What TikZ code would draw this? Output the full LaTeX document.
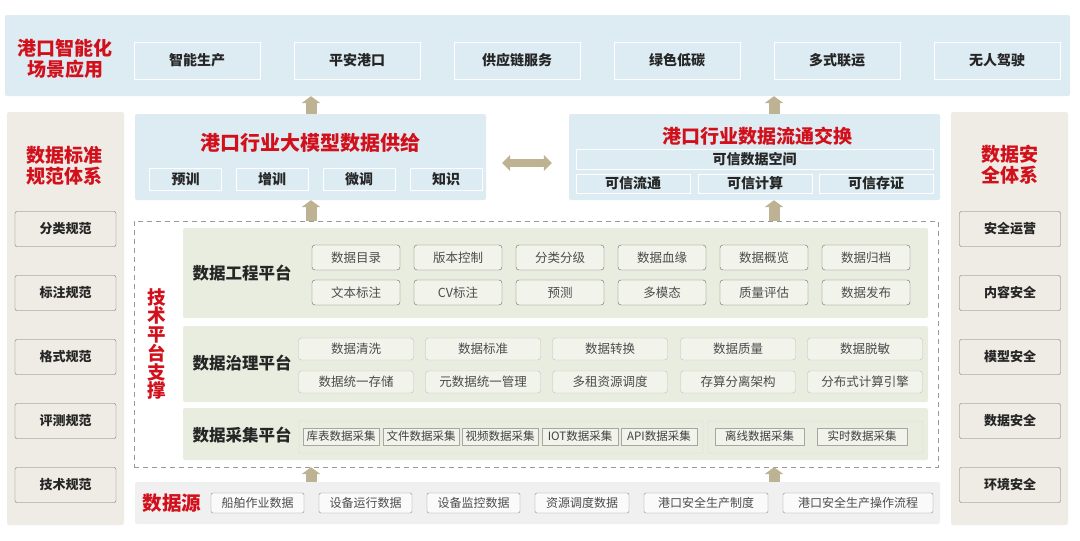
\documentclass[tikz,border=0pt]{standalone}
\usepackage{fontspec}
\setmainfont{Noto Sans CJK SC}
\usetikzlibrary{arrows.meta}

\definecolor{bandblue}{HTML}{DDECF2}
\definecolor{bandside}{HTML}{EEECE5}
\definecolor{bandgreen}{HTML}{E9EDDF}
\definecolor{bandgray}{HTML}{F0F0F0}
\definecolor{itemfill}{HTML}{F2F4EC}
\definecolor{titlered}{HTML}{D2101C}
\definecolor{arrowtan}{HTML}{BDB393}

\tikzset{
  band/.style={fill=#1, draw=none, rounded corners=2pt, inner sep=0pt},
  redtitle/.style={text=titlered, align=center, font=\bfseries\fontsize{19}{21}\selectfont},
  appbox/.style={draw=white, line width=1pt, minimum width=126pt, minimum height=37pt, inner sep=0pt, text=black!85, font=\bfseries\fontsize{14}{16}\selectfont},
  subbox/.style={draw=white, line width=1pt, inner sep=0pt, text=black!85, font=\bfseries\fontsize{14}{16}\selectfont},
  sidebox/.style={draw=black!55, fill=bandside, rounded corners=2pt, minimum width=101pt, minimum height=35pt, inner sep=0pt, text=black!85, font=\bfseries\fontsize{13}{15}\selectfont},
  platlabel/.style={text=black!85, font=\bfseries\fontsize{16.5}{19}\selectfont},
  engbox/.style={draw=black!60, fill=itemfill, rounded corners=3pt, minimum width=88pt, minimum height=25pt, inner sep=0pt, text=black!70, font=\fontsize{12.5}{14}\selectfont},
  govbox/.style={draw=black!25, fill=itemfill, rounded corners=3pt, minimum width=115pt, minimum height=22pt, inner sep=0pt, text=black!70, font=\fontsize{12.5}{14}\selectfont},
  grpbox/.style={draw=black!15, rounded corners=1pt, minimum height=32pt, inner sep=0pt},
  colbox/.style={draw=black!35, fill=itemfill, minimum height=17pt, inner sep=0pt, text=black!75, font=\fontsize{11.5}{13}\selectfont},
  srcbox/.style={draw=black!45, fill=white!70!bandgray, rounded corners=2pt, minimum height=20pt, inner sep=0pt, text=black!70, font=\fontsize{12}{14}\selectfont},
  uparrow/.style={draw=arrowtan, line width=11pt, -{Triangle[width=19pt,length=7pt,line width=0pt]}},
  dblarrow/.style={draw=arrowtan, line width=8pt, {Triangle[width=16pt,length=8pt,line width=0pt]}-{Triangle[width=16pt,length=8pt,line width=0pt]}}
}

\begin{document}
\begin{tikzpicture}[x=1pt,y=1pt,yscale=-1]
\useasboundingbox (0,0) rectangle (1080,541);

\node[band=bandblue, minimum width=1065pt, minimum height=81pt] (apps) at (537.5,55.5) {};
\node[band=bandside, minimum width=117pt, minimum height=413pt] (stdcol) at (65.5,318.5) {};
\node[band=bandside, minimum width=117pt, minimum height=413pt] (seccol) at (1009.5,318.5) {};
\node[band=bandblue, minimum width=351pt, minimum height=86pt] (model) at (310.5,157) {};
\node[band=bandblue, minimum width=371pt, minimum height=86pt] (xchg) at (754.5,157) {};
\node[draw=black!40, dash pattern=on 5pt off 4pt, minimum width=804pt, minimum height=246pt, inner sep=0pt] (tech) at (536,344) {};
\node[band=bandgreen, minimum width=745pt, minimum height=90pt] (eng) at (555.5,273) {};
\node[band=bandgreen, minimum width=745pt, minimum height=76pt] (gov) at (555.5,364) {};
\node[band=bandgreen, minimum width=745pt, minimum height=52pt] (coll) at (555.5,434) {};
\node[band=bandgray, minimum width=805pt, minimum height=42pt] (src) at (537.5,503) {};

\coordinate (leftlane) at (311,0);
\coordinate (rightlane) at (774,0);

\node[redtitle] (appstitle) at (65,59) {港口智能化\\场景应用};
\node[appbox] (app1) at (197,60.5) {智能生产};
\node[appbox] (app2) at (357,60.5) {平安港口};
\node[appbox] (app3) at (517,60.5) {供应链服务};
\node[appbox] (app4) at (677,60.5) {绿色低碳};
\node[appbox] (app5) at (837,60.5) {多式联运};
\node[appbox] (app6) at (997,60.5) {无人驾驶};

\node[redtitle, font=\bfseries\fontsize{20}{22}\selectfont] (modeltitle) at (310,143) {港口行业大模型数据供给};
\node[subbox, minimum width=72pt, minimum height=22pt] (pre) at (185.5,179) {预训};
\node[subbox, minimum width=72pt, minimum height=22pt] (inc) at (272,179) {增训};
\node[subbox, minimum width=72pt, minimum height=22pt] (fine) at (359,179) {微调};
\node[subbox, minimum width=72pt, minimum height=22pt] (know) at (446,179) {知识};

\node[redtitle] (xchgtitle) at (757,136) {港口行业数据流通交换};
\node[subbox, minimum width=357pt, minimum height=20pt] (space) at (754.5,159) {可信数据空间};
\node[subbox, minimum width=114pt, minimum height=19pt] (flow) at (633,183.5) {可信流通};
\node[subbox, minimum width=114pt, minimum height=19pt] (comp) at (755,183.5) {可信计算};
\node[subbox, minimum width=114pt, minimum height=19pt] (proof) at (876,183.5) {可信存证};

\node[redtitle] (stdtitle) at (65,166) {数据标准\\规范体系};
\node[sidebox] (std1) at (65.5,229) {分类规范};
\node[sidebox] (std2) at (65.5,293) {标注规范};
\node[sidebox] (std3) at (65.5,357) {格式规范};
\node[sidebox] (std4) at (65.5,421) {评测规范};
\node[sidebox] (std5) at (65.5,485) {技术规范};

\node[redtitle] (sectitle) at (1010,165) {数据安\\全体系};
\node[sidebox] (sec1) at (1010,229) {安全运营};
\node[sidebox] (sec2) at (1010,293) {内容安全};
\node[sidebox] (sec3) at (1010,357) {模型安全};
\node[sidebox] (sec4) at (1010,421) {数据安全};
\node[sidebox] (sec5) at (1010,485) {环境安全};

\node[redtitle, font=\bfseries\fontsize{18.5}{18.7}\selectfont] (techtitle) at (157,344) {技\\术\\平\\台\\支\\撑};

\node[platlabel] (englabel) at (242,273) {数据工程平台};
\node[engbox] (eng1) at (356,257.5) {数据目录};
\node[engbox] (eng2) at (458,257.5) {版本控制};
\node[engbox] (eng3) at (560,257.5) {分类分级};
\node[engbox] (eng4) at (662,257.5) {数据血缘};
\node[engbox] (eng5) at (764,257.5) {数据概览};
\node[engbox] (eng6) at (866,257.5) {数据归档};
\node[engbox] (eng7) at (356,292.5) {文本标注};
\node[engbox] (eng8) at (458,292.5) {CV标注};
\node[engbox] (eng9) at (560,292.5) {预测};
\node[engbox] (eng10) at (662,292.5) {多模态};
\node[engbox] (eng11) at (764,292.5) {质量评估};
\node[engbox] (eng12) at (866,292.5) {数据发布};

\node[platlabel] (govlabel) at (242,363) {数据治理平台};
\node[govbox] (gov1) at (356,349) {数据清洗};
\node[govbox] (gov2) at (483,349) {数据标准};
\node[govbox] (gov3) at (610,349) {数据转换};
\node[govbox] (gov4) at (738,349) {数据质量};
\node[govbox] (gov5) at (865,349) {数据脱敏};
\node[govbox] (gov6) at (356,382) {数据统一存储};
\node[govbox] (gov7) at (483,382) {元数据统一管理};
\node[govbox] (gov8) at (610,382) {多租资源调度};
\node[govbox] (gov9) at (738,382) {存算分离架构};
\node[govbox] (gov10) at (865,382) {分布式计算引擎};

\node[platlabel] (colllabel) at (242,435) {数据采集平台};
\node[grpbox, minimum width=404pt] (onlinegrp) at (501,437) {};
\node[grpbox, minimum width=215pt] (batchgrp) at (815.5,437) {};
\node[colbox, minimum width=76pt] (coll1) at (341,436.5) {库表数据采集};
\node[colbox, minimum width=76pt] (coll2) at (421,436.5) {文件数据采集};
\node[colbox, minimum width=76pt] (coll3) at (500,436.5) {视频数据采集};
\node[colbox, minimum width=76pt] (coll4) at (580,436.5) {IOT数据采集};
\node[colbox, minimum width=76pt] (coll5) at (659,436.5) {API数据采集};
\node[colbox, minimum width=89pt] (coll6) at (759.5,436.5) {离线数据采集};
\node[colbox, minimum width=90pt] (coll7) at (862,436.5) {实时数据采集};

\node[redtitle, font=\bfseries\fontsize{19.5}{22}\selectfont] (srctitle) at (172,503) {数据源};
\node[srcbox, minimum width=93pt] (src1) at (257.5,503) {船舶作业数据};
\node[srcbox, minimum width=93pt] (src2) at (365.5,503) {设备运行数据};
\node[srcbox, minimum width=93pt] (src3) at (473.5,503) {设备监控数据};
\node[srcbox, minimum width=94pt] (src4) at (582,503) {资源调度数据};
\node[srcbox, minimum width=124pt] (src5) at (706,503) {港口安全生产制度};
\node[srcbox, minimum width=150pt] (src6) at (858,503) {港口安全生产操作流程};

\draw[uparrow] (leftlane |- model.north) -- (leftlane |- apps.south);
\draw[uparrow] (rightlane |- xchg.north) -- (rightlane |- apps.south);
\draw[uparrow] (leftlane |- tech.north) -- (leftlane |- model.south);
\draw[uparrow] (rightlane |- tech.north) -- (rightlane |- xchg.south);
\draw[uparrow] (leftlane |- src.north) -- (leftlane |- tech.south);
\draw[uparrow] (rightlane |- src.north) -- (rightlane |- tech.south);
\draw[dblarrow, shorten <=16pt, shorten >=17pt] ([yshift=6pt]model.east) -- ([yshift=6pt]xchg.west);

\end{tikzpicture}
\end{document}
